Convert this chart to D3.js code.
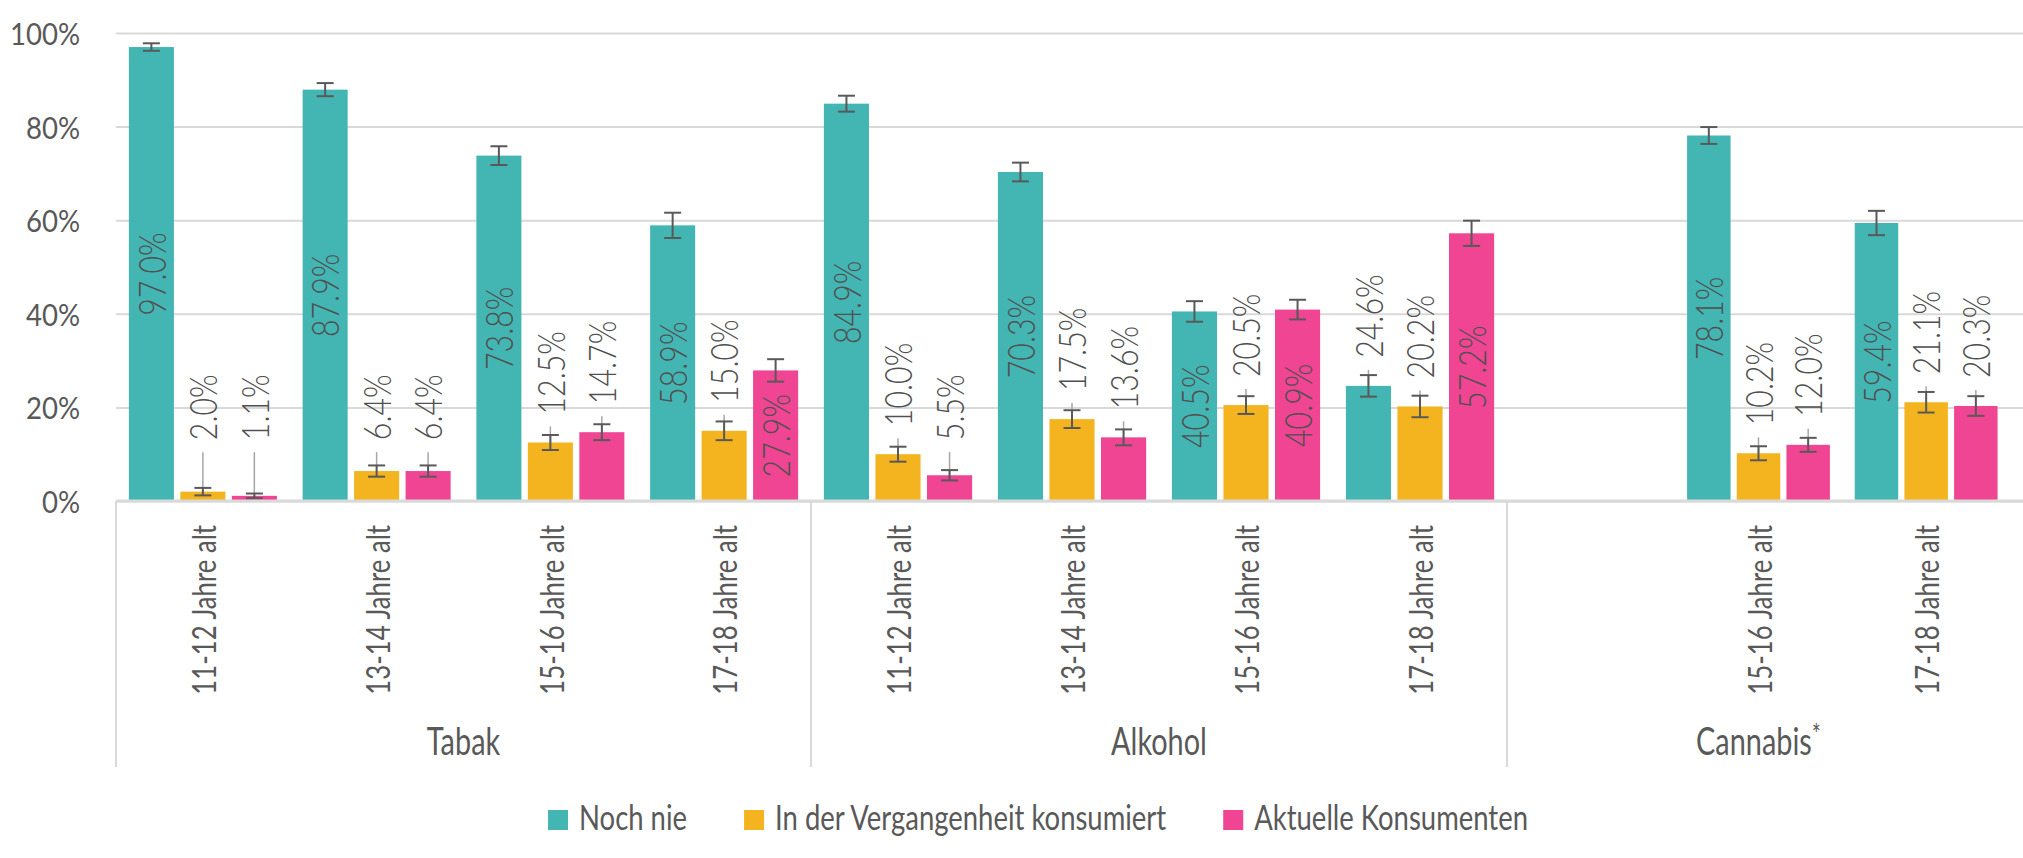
<!DOCTYPE html>
<html>
<head>
<meta charset="utf-8">
<script src="https://cdn.jsdelivr.net/npm/d3@7"></script>
<style>
  body { margin: 0; background: #fff; }
  text { font-family: Lato, "Open Sans", sans-serif; font-weight: 400; fill: #595959; }
  text.inlabel, text.outlabel { font-weight: 300; fill: #505050; }
</style>
</head>
<body>
<div id="chart"></div>
<script>
// Substance groups and how many age slots each one has on the axis
const substances = ['Tabak', 'Alkohol', 'Cannabis*'];
const slotsPerSubstance = [4, 4, 3];

// One entry per slot (Cannabis has an empty first slot)
const ageLabels = [
  '11-12 Jahre alt', '13-14 Jahre alt', '15-16 Jahre alt', '17-18 Jahre alt',
  '11-12 Jahre alt', '13-14 Jahre alt', '15-16 Jahre alt', '17-18 Jahre alt',
  '', '15-16 Jahre alt', '17-18 Jahre alt'
];

const seriesNames = ['Noch nie', 'In der Vergangenheit konsumiert', 'Aktuelle Konsumenten'];
const seriesColors = ['#43b6b4', '#f3b41f', '#ef4592'];

// Values in percent
const nochNie       = [97.0, 87.9, 73.8, 58.9, 84.9, 70.3, 40.5, 24.6, null, 78.1, 59.4];
const vergangenheit = [2.0, 6.4, 12.5, 15.0, 10.0, 17.5, 20.5, 20.2, null, 10.2, 21.1];
const aktuell       = [1.1, 6.4, 14.7, 27.9, 5.5, 13.6, 40.9, 57.2, null, 12.0, 20.3];

// Error bar half widths (percentage points)
const errNochNie       = [0.8, 1.4, 2.0, 2.7, 1.7, 2.0, 2.2, 2.3, null, 1.8, 2.6];
const errVergangenheit = [0.8, 1.2, 1.6, 2.0, 1.6, 1.9, 1.9, 2.3, null, 1.5, 2.2];
const errAktuell       = [0.5, 1.2, 1.7, 2.4, 1.1, 1.7, 2.1, 2.7, null, 1.5, 2.1];

const yTicks = [0, 20, 40, 60, 80, 100];

const width = 2023, height = 858;
const plot = { left: 116, right: 2023, top: 33, bottom: 501 };

const seriesValues = [nochNie, vergangenheit, aktuell];
const seriesErrors = [errNochNie, errVergangenheit, errAktuell];

// condensed look of the original font
const squeeze = { tick: 0.92, value: 0.82, category: 0.78, group: 0.76, legend: 0.785 };

const svg = d3.select('#chart').append('svg')
  .attr('width', width)
  .attr('height', height);

// Scales
const y = d3.scaleLinear().domain([0, 100]).range([plot.bottom, plot.top]);

// slot index -> x; the Cannabis block is a bit narrower in the original
const slotBreaks = [0, ...d3.cumsum(slotsPerSubstance)];
const slotX = d3.scaleLinear()
  .domain(slotBreaks)
  .range([plot.left, 811, 1507, 2010]);

const inner = d3.scaleBand()
  .domain(seriesNames)
  .range([0, 1])
  .paddingInner(0.125)
  .paddingOuter(0.25);

// Gridlines + y tick labels
const yAxis = d3.axisLeft(y)
  .tickValues(yTicks)
  .tickFormat(d => d + '%')
  .tickSize(-(plot.right - plot.left))
  .tickPadding(36);

const yg = svg.append('g')
  .attr('transform', `translate(${plot.left},0)`)
  .call(yAxis);
yg.select('.domain').remove();
yg.selectAll('.tick line').attr('stroke', '#d9d9d9').attr('stroke-width', 2);
yg.selectAll('.tick text')
  .attr('font-size', 30)
  .attr('x', null)
  .attr('dy', null)
  .attr('dominant-baseline', 'central')
  .attr('transform', `translate(-36,0) scale(${squeeze.tick},1)`);

// Flatten data into bars
const bars = [];
seriesNames.forEach((name, si) => {
  seriesValues[si].forEach((v, i) => {
    if (v == null) return;
    const x0 = slotX(i), w = slotX(i + 1) - x0;
    bars.push({
      series: name,
      color: seriesColors[si],
      value: v,
      err: seriesErrors[si][i],
      x: x0 + inner(name) * w,
      w: inner.bandwidth() * w
    });
  });
});

const g = svg.append('g');

g.selectAll('rect.bar')
  .data(bars)
  .join('rect')
  .attr('class', 'bar')
  .attr('x', d => d.x)
  .attr('y', d => y(d.value))
  .attr('width', d => d.w)
  .attr('height', d => y(0) - y(d.value))
  .attr('fill', d => d.color);

// baseline
svg.append('line')
  .attr('x1', plot.left).attr('x2', plot.right)
  .attr('y1', y(0)).attr('y2', y(0))
  .attr('stroke', '#d9d9d9')
  .attr('stroke-width', 3);

// Label placement: inside (centered) for tall bars, above for short ones
const labelStart = d => Math.min(y(d.value) - 28, y(13));
const outside = bars.filter(d => d.value <= 25);
const insideBars = bars.filter(d => d.value > 25);

// leader lines for labels sitting above short bars
g.selectAll('line.leader')
  .data(outside.filter(d => labelStart(d) + 12 < y(d.value + d.err) - 2))
  .join('line')
  .attr('class', 'leader')
  .attr('x1', d => d.x + d.w / 2).attr('x2', d => d.x + d.w / 2)
  .attr('y1', d => labelStart(d) + 12)
  .attr('y2', d => y(d.value))
  .attr('stroke', '#a6a6a6')
  .attr('stroke-width', 1.5);

// Error bars
const eb = g.selectAll('g.err')
  .data(bars)
  .join('g')
  .attr('class', 'err')
  .attr('stroke', '#595959')
  .attr('stroke-width', 2);
eb.append('line')
  .attr('x1', d => d.x + d.w / 2).attr('x2', d => d.x + d.w / 2)
  .attr('y1', d => y(d.value - d.err)).attr('y2', d => y(d.value + d.err));
eb.append('line')
  .attr('x1', d => d.x + d.w / 2 - 8.5).attr('x2', d => d.x + d.w / 2 + 8.5)
  .attr('y1', d => y(d.value + d.err)).attr('y2', d => y(d.value + d.err));
eb.append('line')
  .attr('x1', d => d.x + d.w / 2 - 8.5).attr('x2', d => d.x + d.w / 2 + 8.5)
  .attr('y1', d => y(d.value - d.err)).attr('y2', d => y(d.value - d.err));

const fmt = d => d3.format('.1f')(d) + '%';

g.selectAll('text.inlabel')
  .data(insideBars)
  .join('text')
  .attr('class', 'inlabel')
  .attr('font-size', 37)
  .attr('text-anchor', 'middle')
  .attr('dominant-baseline', 'central')
  .attr('transform', d => `translate(${d.x + d.w / 2},${y(d.value / 2)}) rotate(-90) scale(${squeeze.value},1)`)
  .text(d => fmt(d.value));

g.selectAll('text.outlabel')
  .data(outside)
  .join('text')
  .attr('class', 'outlabel')
  .attr('font-size', 37)
  .attr('text-anchor', 'start')
  .attr('dominant-baseline', 'central')
  .attr('transform', d => `translate(${d.x + d.w / 2},${labelStart(d)}) rotate(-90) scale(${squeeze.value},1)`)
  .text(d => fmt(d.value));

// Category axis (age groups), rotated labels at slot centers
const slotCenters = ageLabels.map((_, i) => i + 0.5);
const xAxis = d3.axisBottom(slotX)
  .tickValues(slotCenters)
  .tickFormat(d => ageLabels[Math.floor(d)])
  .tickSize(0);

const xg = svg.append('g')
  .attr('transform', `translate(0,${y(0)})`)
  .call(xAxis);
xg.select('.domain').remove();
xg.selectAll('.tick text')
  .attr('font-size', 33)
  .attr('x', null).attr('y', null).attr('dy', null)
  .attr('text-anchor', 'end')
  .attr('dominant-baseline', 'central')
  .attr('transform', `translate(0,24) rotate(-90) scale(${squeeze.category},1)`);

// Separators between substance blocks
svg.selectAll('line.sep')
  .data(slotBreaks.slice(0, -1))
  .join('line')
  .attr('class', 'sep')
  .attr('x1', d => slotX(d)).attr('x2', d => slotX(d))
  .attr('y1', y(0)).attr('y2', 767)
  .attr('stroke', '#d9d9d9')
  .attr('stroke-width', 2);

// Substance labels
const groupText = svg.selectAll('text.group')
  .data(substances)
  .join('text')
  .attr('class', 'group')
  .attr('font-size', 38)
  .attr('text-anchor', 'middle')
  .attr('transform', (d, i) => `translate(${(slotX(slotBreaks[i]) + slotX(slotBreaks[i + 1])) / 2},755) scale(${squeeze.group},1)`);
groupText.each(function(d) {
  const t = d3.select(this);
  if (d.endsWith('*')) {
    t.append('tspan').text(d.slice(0, -1));
    t.append('tspan').attr('font-size', 28).attr('baseline-shift', '35%').text('*');
  } else {
    t.text(d);
  }
});

// Legend
const legend = svg.append('g').attr('class', 'legend');
const items = legend.selectAll('g')
  .data(seriesNames)
  .join('g');
items.append('rect')
  .attr('width', 20).attr('height', 20)
  .attr('y', -20)
  .attr('fill', (d, i) => seriesColors[i]);
items.append('text')
  .attr('font-size', 35)
  .attr('transform', `translate(31,0) scale(${squeeze.legend},1)`)
  .text(d => d);

let lx = 0;
const itemX = [];
items.each(function() {
  itemX.push(lx);
  const tw = d3.select(this).select('text').node().getComputedTextLength() * squeeze.legend;
  lx += 31 + tw + 57;
});
const legendW = lx - 57;
const legendLeft = 1038 - legendW / 2;
items.attr('transform', (d, i) => `translate(${itemX[i]},0)`);
legend.attr('transform', `translate(${legendLeft},830)`);
</script>
</body>
</html>
